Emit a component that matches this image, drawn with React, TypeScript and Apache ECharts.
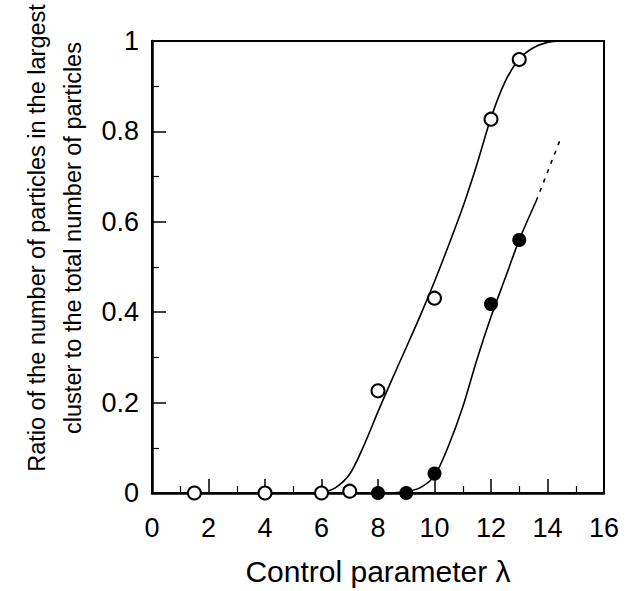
import React, { useEffect, useRef } from "react";
import * as echarts from "echarts";

// Measured markers
const openX = [1.5, 4, 6, 7, 8, 10, 12, 13];
const openY = [0, 0, 0, 0.004, 0.226, 0.431, 0.827, 0.959];
const filledX = [8, 9, 10, 12, 13];
const filledY = [0, 0, 0.043, 0.418, 0.56];

// Fitted curves
const openCurveX = [6, 6.5, 7, 7.5, 8, 8.5, 9, 9.5, 10, 10.5, 11, 11.5, 12, 12.5, 13, 13.5, 14, 14.5];
const openCurveY = [0, 0.012, 0.042, 0.105, 0.18, 0.252, 0.322, 0.393, 0.468, 0.548, 0.632, 0.727, 0.83, 0.91, 0.96, 0.985, 0.997, 1.0];
const filledCurveX = [8.5, 9, 9.5, 10, 10.5, 11, 11.5, 12, 12.5, 13, 13.6];
const filledCurveY = [0, 0.003, 0.012, 0.038, 0.105, 0.19, 0.295, 0.39, 0.475, 0.56, 0.646];
const dashedX = [13.6, 14.5];
const dashedY = [0.646, 0.79];

const xTicks = { min: 0, max: 16, interval: 2 };
const yTicks = { min: 0, max: 1, interval: 0.2 };

const xName = "Control parameter λ";
const yNameLines = [
  "Ratio of the number of particles in the largest",
  "cluster to the total number of particles",
];

const zip = (xs: number[], ys: number[]) => xs.map((x, i) => [x, ys[i]]);

const FONT = "'Liberation Sans', Arial, Helvetica, sans-serif";

export default function App() {
  const ref = useRef<HTMLDivElement>(null);
  useEffect(() => {
    document.body.style.margin = "0";
    if (!ref.current) return;
    const chart = echarts.init(ref.current, undefined, { renderer: "svg" });
    const axisLine = { show: true, lineStyle: { color: "#000", width: 2.5 } };
    chart.setOption({
      animation: false,
      backgroundColor: "#fff",
      grid: {
        left: 152,
        top: 41,
        width: 452,
        height: 452,
        show: true,
        borderColor: "#000",
        borderWidth: 2,
        backgroundColor: "transparent",
      },
      xAxis: {
        type: "value",
        min: xTicks.min,
        max: xTicks.max,
        interval: xTicks.interval,
        name: xName,
        nameLocation: "middle",
        nameGap: 63,
        nameTextStyle: { fontFamily: FONT, fontSize: 30, color: "#000" },
        axisLine,
        axisTick: { show: true, inside: true, length: 14, lineStyle: { color: "#000", width: 1.5 } },
        minorTick: { show: true, splitNumber: 2, length: 7, lineStyle: { color: "#000", width: 1.2 } },
        splitLine: { show: false },
        axisLabel: { margin: 21, fontFamily: FONT, fontSize: 27, color: "#000" },
      },
      yAxis: {
        type: "value",
        min: yTicks.min,
        max: yTicks.max,
        interval: yTicks.interval,
        axisLine,
        axisTick: { show: true, inside: true, length: 14, lineStyle: { color: "#000", width: 1.5 } },
        minorTick: { show: true, splitNumber: 2, length: 7, lineStyle: { color: "#000", width: 1.2 } },
        splitLine: { show: false },
        axisLabel: { margin: 13, fontFamily: FONT, fontSize: 27, color: "#000" },
      },
      graphic: yNameLines.map((t, i) => ({
        type: "text",
        x: 37 + i * 36,
        y: 238,
        rotation: Math.PI / 2,
        style: {
          text: t,
          fontFamily: FONT,
          fontSize: 23.5,
          fill: "#000",
          align: "center",
          verticalAlign: "middle",
        },
      })),
      series: [
        {
          type: "line",
          data: zip(openCurveX, openCurveY),
          smooth: 0.3,
          showSymbol: false,
          symbol: "none",
          lineStyle: { color: "#000", width: 1.6 },
          z: 2,
        },
        {
          type: "line",
          data: zip(filledCurveX, filledCurveY),
          smooth: 0.3,
          showSymbol: false,
          symbol: "none",
          lineStyle: { color: "#000", width: 1.6 },
          z: 2,
        },
        {
          type: "line",
          data: zip(dashedX, dashedY),
          showSymbol: false,
          symbol: "none",
          lineStyle: { color: "#000", width: 1.6, type: [4, 6] },
          z: 2,
        },
        {
          type: "scatter",
          data: zip(openX, openY),
          symbol: "circle",
          symbolSize: 13,
          itemStyle: { color: "#fff", borderColor: "#000", borderWidth: 2, opacity: 1 },
          z: 5,
        },
        {
          type: "scatter",
          data: zip(filledX, filledY),
          symbol: "circle",
          symbolSize: 14,
          itemStyle: { color: "#000", borderColor: "#000", borderWidth: 0, opacity: 1 },
          z: 6,
        },
      ],
    });
    return () => chart.dispose();
  }, []);
  return <div ref={ref} style={{ width: 626, height: 591 }} />;
}
